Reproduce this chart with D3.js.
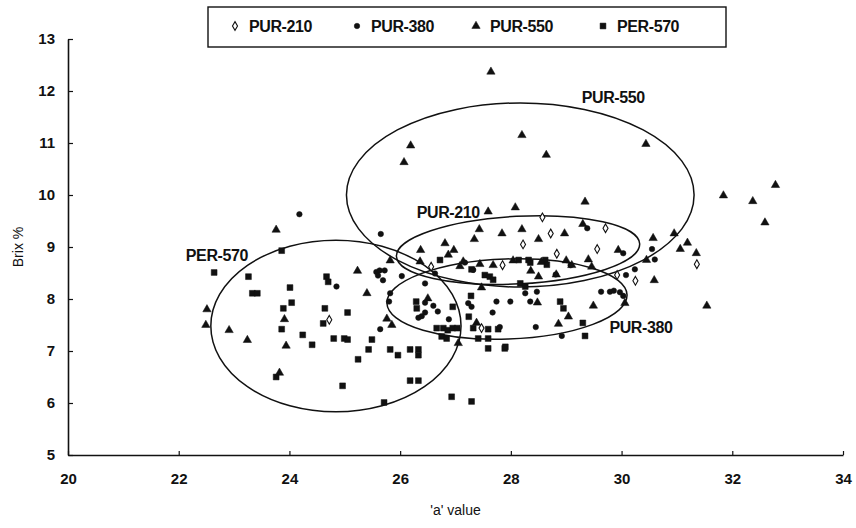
<!DOCTYPE html>
<html>
<head>
<meta charset="utf-8">
<script src="https://cdn.jsdelivr.net/npm/d3@7"></script>
<style>
  html, body { margin: 0; padding: 0; background: #fff; }
  svg { display: block; font-family: "Liberation Sans", Arial, Helvetica, sans-serif; }
</style>
</head>
<body>
<svg id="chart" width="856" height="528"></svg>
<script>
// ---------------- DATA ----------------
const seriesNames = ["PUR-210", "PUR-380", "PUR-550", "PER-570"];
const xTicks = [20, 22, 24, 26, 28, 30, 32, 34];
const yTicks = [5, 6, 7, 8, 9, 10, 11, 12, 13];

const pur210 = [[28.57,9.57],[28.72,9.26],[28.22,9.05],[28.83,8.87],[29.56,8.96],[29.71,9.36],[31.36,8.67],
  [29.92,8.46],[30.25,8.35],[27.85,8.65],[26.56,8.62],[27.47,7.44],[24.72,7.60]];

const pur380 = [[24.18,9.63],[25.65,9.25],[29.38,9.36],[30.03,8.88],[30.55,8.96],[30.60,8.76],[30.08,8.46],
  [30.24,8.57],[29.63,8.14],[29.79,8.14],[29.86,8.16],[29.97,8.13],[30.03,8.06],[29.08,8.65],[28.81,8.47],
  [27.99,7.95],[28.35,7.95],[28.45,7.46],[27.80,7.46],[28.92,7.29],[27.67,7.74],[27.74,7.95],[27.23,7.92],
  [27.29,7.85],[27.32,8.56],[27.17,8.70],[26.03,8.44],[26.45,8.30],[26.63,8.49],[25.57,8.52],[25.63,8.55],
  [25.72,8.55],[25.69,8.36],[25.60,8.45],[25.82,8.11],[25.80,7.95],[24.85,8.24],[25.64,7.42],[26.45,7.93],
  [26.60,7.87],[26.68,7.76],[26.45,7.74],[26.33,7.64],[26.39,7.67],[26.88,7.61],[28.47,8.14],[28.26,8.11]];

const pur550 = [[27.64,12.37],[28.20,11.15],[28.64,10.77],[26.19,10.95],[26.07,10.63],[29.34,9.87],[27.59,9.68],
  [28.08,9.76],[27.43,9.34],[27.34,9.15],[27.84,9.26],[28.20,9.34],[28.50,9.15],[28.97,9.26],[29.30,9.44],
  [26.81,9.07],[30.44,10.98],[31.84,9.99],[32.78,10.19],[32.37,9.88],[32.59,9.47],[30.57,9.17],[30.95,9.26],
  [31.19,9.08],[29.94,8.94],[30.45,8.75],[31.06,8.96],[31.35,8.88],[30.59,8.36],[31.54,7.87],[30.06,7.92],
  [29.49,7.87],[29.04,7.66],[28.86,7.52],[28.48,7.93],[29.40,8.76],[29.46,8.62],[28.36,8.54],[28.82,8.47],
  [26.97,8.94],[26.87,8.85],[26.37,8.94],[25.82,8.74],[25.23,8.54],[26.36,8.72],[27.08,8.63],[27.44,8.67],
  [27.68,8.65],[27.47,8.22],[26.50,8.01],[27.38,7.54],[27.05,7.15],[25.40,8.11],[25.76,7.62],[25.85,7.50],
  [23.76,9.33],[22.51,7.80],[22.49,7.50],[22.91,7.40],[23.24,7.21],[23.94,7.10],[23.91,7.61],[23.82,6.58],
  [29.10,8.65],[28.50,8.43],[27.14,8.72],[28.04,8.74],[28.55,8.71],[29.00,8.74]];

const per570 = [[22.64,8.51],[23.86,8.93],[23.26,8.43],[23.33,8.11],[23.42,8.11],[24.01,8.22],[24.04,7.93],
  [23.89,7.82],[23.86,7.42],[24.24,7.31],[24.41,7.12],[23.76,6.50],[24.67,8.43],[24.70,8.33],[24.64,7.82],
  [24.61,7.53],[25.05,7.74],[24.80,7.24],[24.99,7.24],[25.05,7.22],[25.49,7.22],[25.43,7.03],[25.82,7.03],
  [25.96,6.92],[26.18,7.03],[26.33,7.03],[26.33,6.92],[25.24,6.84],[24.96,6.33],[26.18,6.43],[26.33,6.43],
  [25.71,6.01],[26.93,6.12],[27.29,6.03],[27.59,7.05],[27.89,7.05],[26.29,7.95],[26.30,7.82],[26.95,7.85],
  [26.66,7.44],[26.78,7.44],[26.75,7.28],[26.86,7.40],[26.95,7.44],[27.03,7.44],[26.84,7.24],[27.24,7.66],
  [27.28,8.06],[27.32,7.44],[27.59,7.42],[27.77,7.42],[27.41,7.24],[27.59,7.24],[27.29,8.57],[27.53,8.46],
  [27.62,8.43],[27.68,8.37],[26.72,8.75],[28.14,8.75],[28.32,8.75],[28.35,8.70],[28.62,8.75],[28.65,8.66],
  [28.17,8.30],[28.26,8.24],[28.89,7.95],[28.95,7.82],[29.30,7.54],[29.34,7.29],[27.90,7.08]];

// confidence ellipses: centre (x, y), radii (x units, y units), rotation (deg)
const ellipseNames = ["PUR-550", "PUR-210", "PUR-380", "PER-570"];
const ellipseCx = [28.17, 28.13, 27.93, 24.84];
const ellipseCy = [10.00, 8.94, 8.00, 7.48];
const ellipseRx = [3.14, 2.20, 2.17, 2.26];
const ellipseRy = [1.77, 0.65, 0.77, 1.65];
const ellipseRot = [0, -3, -2, 0];
const labelX = [29.85, 26.87, 30.35, 22.69];
const labelY = [11.87, 9.67, 7.46, 8.83];

// ---------------- CHART ----------------
const svg = d3.select("#chart");
const ink = "#111";
const x = d3.scaleLinear().domain([20, 34]).range([68, 843]);
const y = d3.scaleLinear().domain([5, 13]).range([455, 39]);

// axes
const xAxis = d3.axisBottom(x).tickValues(xTicks).tickSize(-4).tickSizeOuter(0).tickPadding(18);
const yAxis = d3.axisLeft(y).tickValues(yTicks).tickSize(-5).tickSizeOuter(0).tickPadding(13);

const gx = svg.append("g").attr("transform", `translate(0,${y(5)})`).call(xAxis);
const gy = svg.append("g").attr("transform", `translate(${x(20)},0)`).call(yAxis);
[gx, gy].forEach(g => {
  g.select(".domain").attr("stroke", ink).attr("stroke-width", 1.6);
  g.selectAll(".tick line").attr("stroke", ink).attr("stroke-width", 1.2);
  g.selectAll(".tick text").attr("fill", ink).attr("font-size", 15).attr("font-weight", "bold")
    .attr("font-family", "'Liberation Sans', Arial, sans-serif");
});

// axis titles
svg.append("text").attr("x", (x(20) + x(34)) / 2).attr("y", 515).attr("text-anchor", "middle")
  .attr("font-size", 14).attr("fill", ink).text("'a' value");
svg.append("text").attr("transform", `translate(23,${(y(5) + y(13)) / 2}) rotate(-90)`)
  .attr("text-anchor", "middle").attr("font-size", 14).attr("fill", ink).text("Brix %");

// ellipses
ellipseNames.forEach((n, i) => {
  const cx = x(ellipseCx[i]), cy = y(ellipseCy[i]);
  const rx = x(ellipseCx[i] + ellipseRx[i]) - cx;
  const ry = cy - y(ellipseCy[i] + ellipseRy[i]);
  svg.append("ellipse").attr("cx", cx).attr("cy", cy).attr("rx", rx).attr("ry", ry)
    .attr("transform", `rotate(${ellipseRot[i]},${cx},${cy})`)
    .attr("fill", "none").attr("stroke", ink).attr("stroke-width", 1.5);
});

// markers
const symTri = d3.symbol().type(d3.symbolTriangle).size(30);
const symSq = d3.symbol().type(d3.symbolSquare).size(34);
const symCirc = d3.symbol().type(d3.symbolCircle).size(24);
const symDia = d3.symbol().type(d3.symbolDiamond).size(22);

function plot(data, sym, filled) {
  svg.append("g").selectAll("path").data(data).join("path")
    .attr("transform", d => `translate(${x(d[0])},${y(d[1])})`)
    .attr("d", sym)
    .attr("fill", filled ? ink : "#fff")
    .attr("stroke", ink).attr("stroke-width", filled ? 0.5 : 1.1);
}
plot(per570, symSq, true);
plot(pur380, symCirc, true);
plot(pur550, symTri, true);
plot(pur210, symDia, false);

// ellipse labels
ellipseNames.forEach((n, i) => {
  svg.append("text").attr("x", x(labelX[i])).attr("y", y(labelY[i]))
    .attr("text-anchor", "middle").attr("dominant-baseline", "central")
    .attr("font-size", 16).attr("font-weight", "bold").attr("fill", ink)
    .attr("letter-spacing", -0.4).text(n);
});

// legend
const lg = svg.append("g");
lg.append("rect").attr("x", 208).attr("y", 7).attr("width", 518).attr("height", 40)
  .attr("fill", "#fff").attr("stroke", ink).attr("stroke-width", 1.4);
const legSyms = [symDia, symCirc, symTri, symSq];
const legFilled = [false, true, true, true];
const legX = [235, 357, 476, 603];
seriesNames.forEach((n, i) => {
  lg.append("path").attr("transform", `translate(${legX[i]},26)`).attr("d", legSyms[i])
    .attr("fill", legFilled[i] ? ink : "#fff").attr("stroke", ink)
    .attr("stroke-width", legFilled[i] ? 0.5 : 1.1);
  lg.append("text").attr("x", legX[i] + 14).attr("y", 26).attr("dominant-baseline", "central")
    .attr("font-size", 16).attr("font-weight", "bold").attr("fill", ink)
    .attr("letter-spacing", -0.4).text(n);
});
</script>
</body>
</html>
